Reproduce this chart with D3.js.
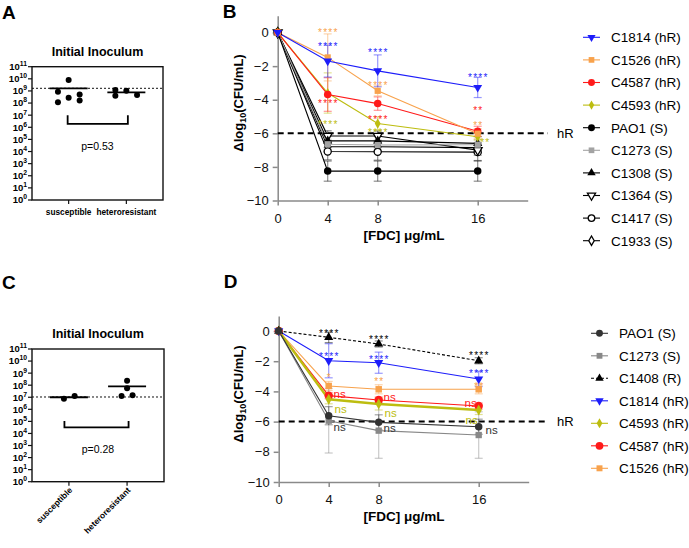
<!DOCTYPE html>
<html><head><meta charset="utf-8">
<script src="https://cdn.jsdelivr.net/npm/d3@7"></script>
<style>body{margin:0;background:#fff}svg{display:block;font-family:Arial,"Liberation Sans",sans-serif}</style>
</head><body><svg id="c" width="689" height="548"></svg>
<script>
// ---------------- DATA ----------------
const groups = ["susceptible", "heteroresistant"];
const decades = d3.range(0, 12);            // 10^0 .. 10^11
const inocA_susceptible = [7.9e9, 8.7e8, 5.2e8, 2.8e8, 1.15e8, 1.6e8];
const inocA_hetero = [1.2e9, 1.05e9, 4.0e8, 4.6e8];
const inocA_means = [1.65e9, 7.6e8];
const inocA_ref = 1.65e9;
const inocA_p = "p=0.53";
const inocC_susceptible = [7.4e6, 1.3e7];
const inocC_hetero = [2.3e8, 5.5e7, 1.3e7, 1.5e7];
const inocC_means = [1.0e7, 8.0e7];
const inocC_ref = 1.05e7;
const inocC_p = "p=0.28";

const doses = [0, 4, 8, 16];
const killTicks = [0, -2, -4, -6, -8, -10];
const hRThreshold = -6;

// Panel B  (mean, sd, significance label, label anchor value)
const B_names = ["C1814 (hR)", "C1526 (hR)", "C4587 (hR)", "C4593 (hR)", "PAO1 (S)", "C1273 (S)", "C1308 (S)", "C1364 (S)", "C1417 (S)", "C1933 (S)"];
const B_C1814 = [0, -1.70, -2.28, -3.27], B_C1814_sd = [0.1, 0.95, 0.95, 0.6];
const B_C1526 = [0, -1.48, -3.47, -6.02], B_C1526_sd = [0.1, 1.4, 0.3, 0.3];
const B_C4587 = [0, -3.69, -4.23, -5.88], B_C4587_sd = [0.1, 1.0, 0.4, 0.3];
const B_C4593 = [0, -3.60, -5.42, -6.20], B_C4593_sd = [0.1, 1.2, 0.4, 0.2];
const B_PAO1  = [0, -8.25, -8.25, -8.25], B_PAO1_sd  = [0.1, 0.6, 0.6, 0.6];
const B_C1273 = [0, -6.65, -6.70, -6.68], B_C1273_sd = [0.1, 0.3, 0.3, 0.3];
const B_C1308 = [0, -6.45, -6.45, -6.60], B_C1308_sd = [0.1, 0.4, 0.4, 0.4];
const B_C1364 = [0, -6.15, -6.16, -7.00], B_C1364_sd = [0.1, 0.3, 0.3, 0.3];
const B_C1417 = [0, -7.08, -7.10, -7.12], B_C1417_sd = [0.1, 0.5, 0.5, 0.5];
const B_C1933 = [0, -6.80, -6.80, -6.85], B_C1933_sd = [0.1, 0.3, 0.3, 0.3];
const B_C1814_sig = ["", "****", "****", "****"], B_C1814_sigAt = [0, -0.70, -1.09, -2.54];
const B_C1526_sig = ["", "****", "****", "**"],   B_C1526_sigAt = [0, 0.15, -3.00, -5.42];
const B_C4587_sig = ["", "****", "****", "**"],   B_C4587_sigAt = [0, -4.07, -5.03, -4.53];
const B_C4593_sig = ["", "****", "****", "**"],   B_C4593_sigAt = [0, -5.33, -5.82, -6.42];

// Panel D
const D_names = ["PAO1 (S)", "C1273 (S)", "C1408 (R)", "C1814 (hR)", "C4593 (hR)", "C4587 (hR)", "C1526 (hR)"];
const D_PAO1  = [0, -5.61, -6.05, -6.34], D_PAO1_sd  = [0.05, 0.6, 0.5, 0.5];
const D_C1273 = [0, -5.94, -6.60, -6.89], D_C1273_sd = [0.05, 2.14, 1.83, 1.54];
const D_C1408 = [0, -0.42, -0.86, -1.97], D_C1408_sd = [0.05, 0.35, 0.2, 0.2];
const D_C1814 = [0, -1.97, -2.10, -3.18], D_C1814_sd = [0.05, 1.13, 0.7, 0.5];
const D_C4593 = [0, -4.52, -4.83, -5.23], D_C4593_sd = [0.05, 0.3, 0.4, 0.3];
const D_C4587 = [0, -4.28, -4.57, -4.97], D_C4587_sd = [0.05, 0.2, 0.2, 0.2];
const D_C1526 = [0, -3.64, -3.86, -3.86], D_C1526_sd = [0.05, 0.3, 0.3, 0.3];
const D_PAO1_sig  = ["", "ns", "ns", "ns"],       D_PAO1_sigAt  = [0, -6.38, -6.44, -6.56];
const D_C1408_sig = ["", "****", "****", "****"], D_C1408_sigAt = [0, -0.05, -0.42, -1.50];
const D_C1814_sig = ["", "****", "****", "****"], D_C1814_sigAt = [0, -1.52, -1.74, -2.70];
const D_C4593_sig = ["", "ns", "ns", "ns"],       D_C4593_sigAt = [0, -5.19, -5.45, -5.90];
const D_C4587_sig = ["", "ns", "ns", "ns"],       D_C4587_sigAt = [0, -4.19, -4.39, -4.79];
const D_C1526_sig = ["", "*", "**", "**"],        D_C1526_sigAt = [0, -2.91, -3.18, -3.52];

// ---------------- STYLE / LAYOUT ----------------
const BLUE = "#1d1dfa", ORANGE = "#f8a24c", RED = "#ff1a1a", OLIVE = "#bdbd10";
const svg = d3.select("#c");

function sym(type, size) {
  const t = {circle: d3.symbolCircle, square: d3.symbolSquare, tri: d3.symbolTriangle,
    triDown: d3.symbolTriangle, diamond: d3.symbolDiamond}[type];
  return d3.symbol().type(t).size(size)();
}
function drawMarker(g, cx, cy, st) {
  g.append("path").attr("d", sym(st.shape, st.size))
    .attr("transform", `translate(${cx},${cy})${st.shape === "triDown" ? " rotate(180)" : ""}`)
    .attr("fill", st.open ? "#fff" : st.color)
    .attr("stroke", st.open ? st.color : "none").attr("stroke-width", 1.3);
}

// ---------- Inoculum panels ----------
function inoculum(o) {
  const g = svg.append("g");
  const y = d3.scaleLog().domain([1, 1e11]).range([o.bottom, o.top]);
  const x = d3.scalePoint().domain(groups).range([o.left, o.right]).padding(0.635);
  g.append("text").attr("x", 2).attr("y", o.letterY).text(o.letter)
    .attr("font-size", 19).attr("font-weight", "bold");
  g.append("text").attr("x", (o.left + o.right) / 2).attr("y", o.top - 11)
    .attr("text-anchor", "middle").attr("font-size", 12.5).attr("font-weight", "bold").text("Initial Inoculum");
  g.append("rect").attr("x", o.left).attr("y", o.top).attr("width", o.right - o.left)
    .attr("height", o.bottom - o.top).attr("fill", "none").attr("stroke", "#111").attr("stroke-width", 1.4);
  decades.forEach(d => {
    const yy = y(Math.pow(10, d));
    g.append("line").attr("x1", o.left - 4).attr("x2", o.left).attr("y1", yy).attr("y2", yy)
      .attr("stroke", "#111").attr("stroke-width", 1.2);
    const t = g.append("text").attr("x", o.left - 5).attr("y", yy + 3.4).attr("text-anchor", "end")
      .attr("font-size", 9.5).attr("font-weight", "bold");
    t.append("tspan").text("10");
    t.append("tspan").attr("dy", -4).attr("font-size", 6.8).text(d);
  });
  groups.forEach((gr, i) => {
    g.append("line").attr("x1", x(gr)).attr("x2", x(gr)).attr("y1", o.bottom).attr("y2", o.bottom + 4)
      .attr("stroke", "#111").attr("stroke-width", 1.2);
    if (o.rotate) {
      g.append("text").attr("transform", `translate(${x(gr) + 4},${o.bottom + 9}) rotate(-45)`)
        .attr("text-anchor", "end").attr("font-size", 8.5).attr("font-weight", "bold").text(gr);
    } else {
      g.append("text").attr("x", x(gr)).attr("y", o.bottom + 14.5).attr("text-anchor", "middle")
        .attr("font-size", 8.3).attr("font-weight", "bold").text(gr);
    }
  });
  // reference dotted line
  g.append("line").attr("x1", o.left).attr("x2", o.right).attr("y1", y(o.ref)).attr("y2", y(o.ref))
    .attr("stroke", "#111").attr("stroke-width", 1).attr("stroke-dasharray", "2,2");
  [o.susc, o.het].forEach((vals, i) => {
    const cx = x(groups[i]);
    vals.forEach((v, j) => g.append("circle").attr("cx", cx + o.jitter[i][j]).attr("cy", y(v))
      .attr("r", 3).attr("fill", "#000"));
    g.append("line").attr("x1", cx - 19).attr("x2", cx + 19).attr("y1", y(o.means[i])).attr("y2", y(o.means[i]))
      .attr("stroke", "#000").attr("stroke-width", 1.8);
  });
  const bx1 = x(groups[0]) + o.bracketInset[0], bx2 = x(groups[1]) + o.bracketInset[1];
  g.append("path").attr("d", `M${bx1},${y(o.bracket[0])}V${y(o.bracket[1])}H${bx2}V${y(o.bracket[0])}`)
    .attr("fill", "none").attr("stroke", "#000").attr("stroke-width", 1.8);
  g.append("text").attr("x", (x(groups[0]) + x(groups[1])) / 2).attr("y", y(o.bracket[1]) + 26)
    .attr("text-anchor", "middle").attr("font-size", 10.5).text(o.p);
}
inoculum({letter: "A", letterY: 18.5, top: 66.7, bottom: 200, left: 32, right: 163,
  susc: inocA_susceptible, het: inocA_hetero, means: inocA_means, ref: inocA_ref, p: inocA_p,
  jitter: [[0, -10.7, 11, 0, -10.7, 11], [-11, 0, -11, 10.7]], bracket: [1e7, 1.9e6], bracketInset: [-1, 1.5], rotate: false});
inoculum({letter: "C", letterY: 288.5, top: 349, bottom: 481.7, left: 32, right: 164,
  susc: inocC_susceptible, het: inocC_hetero, means: inocC_means, ref: inocC_ref, p: inocC_p,
  jitter: [[-5, 5.7], [0, 0, -5.5, 5.5]], bracket: [1.1e5, 3.2e4], bracketInset: [-4.5, 1.5], rotate: true});

// ---------- Kill panels ----------
function killPanel(o) {
  const g = svg.append("g");
  const x = d3.scaleLinear().domain([0, 20]).range(o.xr);
  const y = d3.scaleLinear().domain([-10, 1]).range(o.yr);
  g.append("text").attr("x", o.xr[0] - 55).attr("y", o.letterY).text(o.letter)
    .attr("font-size", 19).attr("font-weight", "bold");
  const styleAxis = a => {
    a.select(".domain").attr("stroke", "#8a8a8a").attr("stroke-width", 1.5);
    a.selectAll(".tick line").attr("stroke", "#8a8a8a").attr("stroke-width", 1.5);
    a.selectAll(".tick text").attr("font-size", 13).attr("fill", "#111").attr("font-family", "Arial, 'Liberation Sans', sans-serif");
  };
  g.append("g").attr("transform", `translate(0,${y(-10)})`)
    .call(d3.axisBottom(x).tickValues(doses).tickSize(5).tickSizeOuter(0).tickPadding(8)).call(styleAxis);
  g.append("g").attr("transform", `translate(${x(0)},0)`)
    .call(d3.axisLeft(y).tickValues(killTicks).tickSize(5).tickSizeOuter(0).tickPadding(4)).call(styleAxis);
  const yl = g.append("text").attr("transform", `translate(242.5,${o.ylabY}) rotate(-90)`)
    .attr("text-anchor", "middle").attr("font-size", 13).attr("font-weight", "bold");
  yl.append("tspan").text("Δlog");
  yl.append("tspan").attr("font-size", 9).attr("dy", 3).text("10");
  yl.append("tspan").attr("dy", -3).text("(CFU/mL)");
  g.append("text").attr("x", 404).attr("y", o.xlabY).attr("text-anchor", "middle")
    .attr("font-size", 13.5).attr("font-weight", "bold").text("[FDC] μg/mL");
  // threshold
  g.append("line").attr("x1", x(0)).attr("x2", 548).attr("y1", y(hRThreshold)).attr("y2", y(hRThreshold))
    .attr("stroke", "#000").attr("stroke-width", 2).attr("stroke-dasharray", "6,4");
  g.append("text").attr("x", 557).attr("y", y(hRThreshold) + 4.5).attr("font-size", 13).text("hR");
  // series (drawn last-first so first legend entry on top)
  const sers = o.series.slice().reverse();
  sers.forEach(s => {
    const eg = g.append("g").attr("stroke", s.st.color).attr("stroke-opacity", 0.45).attr("stroke-width", 1.2);
    doses.forEach((d, i) => {
      if (s.sd[i] < 0.15) return;
      const cx = x(d), y1 = y(s.vals[i] + s.sd[i]), y2 = y(s.vals[i] - s.sd[i]);
      eg.append("line").attr("x1", cx).attr("x2", cx).attr("y1", y1).attr("y2", y2);
      eg.append("line").attr("x1", cx - 4).attr("x2", cx + 4).attr("y1", y1).attr("y2", y1);
      eg.append("line").attr("x1", cx - 4).attr("x2", cx + 4).attr("y1", y2).attr("y2", y2);
    });
  });
  sers.forEach(s => {
    g.append("path").attr("d", d3.line().x((d, i) => x(doses[i])).y(d => y(d))(s.vals))
      .attr("fill", "none").attr("stroke", s.st.color).attr("stroke-width", s.st.lw || 1.1)
      .attr("stroke-dasharray", s.st.dash || null);
  });
  sers.forEach(s => s.vals.forEach((v, i) => drawMarker(g, x(doses[i]), y(v), s.st)));
  // significance labels
  o.series.forEach(s => {
    if (!s.sig) return;
    s.sig.forEach((t, i) => {
      if (!t) return;
      const stars = t.includes("*");
      const dx = (s.st.sigDx || [0, 0, 0, 0])[i];
      g.append("text").attr("x", x(doses[i]) + dx + (stars ? 0.6 : 0)).attr("y", y(s.sigAt[i]) + (stars ? 5.6 : 4))
        .attr("text-anchor", "middle").attr("font-size", stars ? 10 : 11.5)
        .attr("letter-spacing", stars ? 1.2 : 0)
        .attr("fill", s.st.color).text(t);
    });
  });
  // legend
  o.series.forEach((s, i) => {
    const yy = o.legY + i * o.legStep;
    g.append("line").attr("x1", o.legX - 8.5).attr("x2", o.legX + 8.5).attr("y1", yy).attr("y2", yy)
      .attr("stroke", s.st.color).attr("stroke-width", 1.1).attr("stroke-dasharray", s.st.dash || null);
    drawMarker(g, o.legX, yy, Object.assign({}, s.st, {size: s.st.size * 0.85}));
    g.append("text").attr("x", o.legX + 19.5).attr("y", yy + 4.8).attr("font-size", 13.5).text(s.name);
  });
}

const BS = {
  C1814: {color: BLUE, shape: "triDown", size: 34},
  C1526: {color: ORANGE, shape: "square", size: 38},
  C4587: {color: RED, shape: "circle", size: 44},
  C4593: {color: OLIVE, shape: "diamond", size: 30, sigDx: [0, 0, 0, 7]},
  PAO1: {color: "#000", shape: "circle", size: 44},
  C1273: {color: "#a3a3a3", shape: "square", size: 38},
  C1308: {color: "#000", shape: "tri", size: 36},
  C1364: {color: "#000", shape: "triDown", size: 34, open: true},
  C1417: {color: "#000", shape: "circle", size: 40, open: true},
  C1933: {color: "#000", shape: "diamond", size: 30, open: true}
};
killPanel({letter: "B", letterY: 17.5, xr: [277.7, 527.7], yr: [200.5, 15.75], ylabY: 103, xlabY: 240,
  legX: 591.5, legY: 37.3, legStep: 22.6,
  series: [
    {name: B_names[0], vals: B_C1814, sd: B_C1814_sd, sig: B_C1814_sig, sigAt: B_C1814_sigAt, st: BS.C1814},
    {name: B_names[1], vals: B_C1526, sd: B_C1526_sd, sig: B_C1526_sig, sigAt: B_C1526_sigAt, st: BS.C1526},
    {name: B_names[2], vals: B_C4587, sd: B_C4587_sd, sig: B_C4587_sig, sigAt: B_C4587_sigAt, st: BS.C4587},
    {name: B_names[3], vals: B_C4593, sd: B_C4593_sd, sig: B_C4593_sig, sigAt: B_C4593_sigAt, st: BS.C4593},
    {name: B_names[4], vals: B_PAO1, sd: B_PAO1_sd, st: BS.PAO1},
    {name: B_names[5], vals: B_C1273, sd: B_C1273_sd, st: BS.C1273},
    {name: B_names[6], vals: B_C1308, sd: B_C1308_sd, st: BS.C1308},
    {name: B_names[7], vals: B_C1364, sd: B_C1364_sd, st: BS.C1364},
    {name: B_names[8], vals: B_C1417, sd: B_C1417_sd, st: BS.C1417},
    {name: B_names[9], vals: B_C1933, sd: B_C1933_sd, st: BS.C1933}
  ]});

const DS = {
  PAO1: {color: "#333", shape: "circle", size: 44, sigDx: [0, 11, 11, 13]},
  C1273: {color: "#888", shape: "square", size: 40},
  C1408: {color: "#000", shape: "tri", size: 36, dash: "3,2"},
  C1814: {color: BLUE, shape: "triDown", size: 36},
  C4593: {color: OLIVE, shape: "diamond", size: 34, lw: 2.4, sigDx: [0, 12, 12, -7]},
  C4587: {color: RED, shape: "circle", size: 56, sigDx: [0, 11, 11, -8]},
  C1526: {color: ORANGE, shape: "square", size: 42}
};
killPanel({letter: "D", letterY: 288, xr: [278.7, 528.7], yr: [482, 315.9], ylabY: 394, xlabY: 521,
  legX: 599.5, legY: 333.3, legStep: 22.5,
  series: [
    {name: D_names[0], vals: D_PAO1, sd: D_PAO1_sd, sig: D_PAO1_sig, sigAt: D_PAO1_sigAt, st: DS.PAO1},
    {name: D_names[1], vals: D_C1273, sd: D_C1273_sd, st: DS.C1273},
    {name: D_names[2], vals: D_C1408, sd: D_C1408_sd, sig: D_C1408_sig, sigAt: D_C1408_sigAt, st: DS.C1408},
    {name: D_names[3], vals: D_C1814, sd: D_C1814_sd, sig: D_C1814_sig, sigAt: D_C1814_sigAt, st: DS.C1814},
    {name: D_names[4], vals: D_C4593, sd: D_C4593_sd, sig: D_C4593_sig, sigAt: D_C4593_sigAt, st: DS.C4593},
    {name: D_names[5], vals: D_C4587, sd: D_C4587_sd, sig: D_C4587_sig, sigAt: D_C4587_sigAt, st: DS.C4587},
    {name: D_names[6], vals: D_C1526, sd: D_C1526_sd, sig: D_C1526_sig, sigAt: D_C1526_sigAt, st: DS.C1526}
  ]});
</script></body></html>
